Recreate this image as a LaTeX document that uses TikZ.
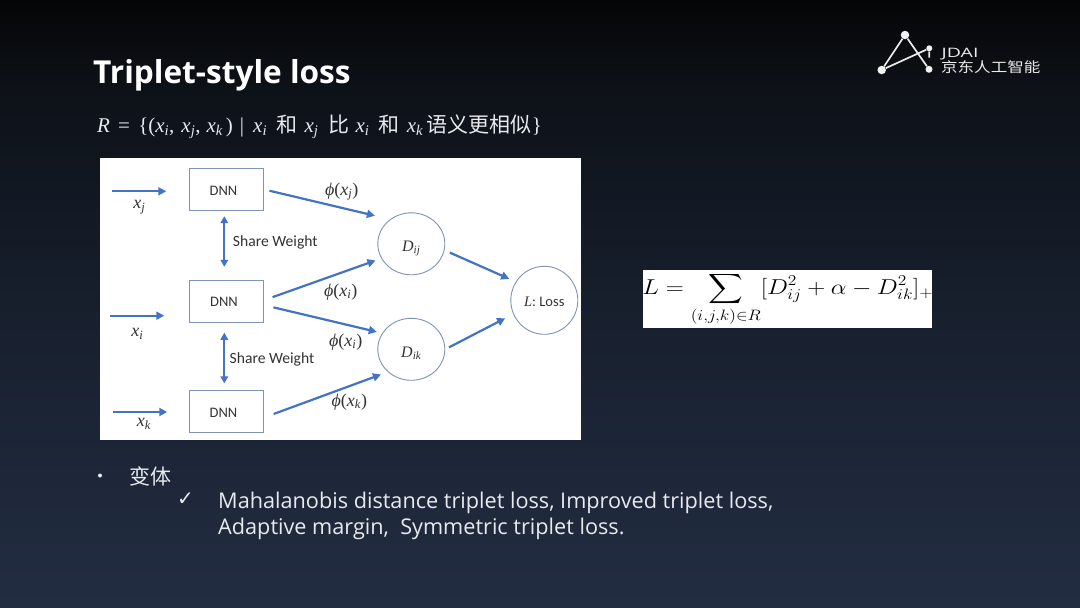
\RequirePackage{fix-cm}
\documentclass[tikz,border=0pt]{standalone}
\usepackage{amsmath}
\usepackage{fontspec}
\setmainfont{Open Sans}
\newfontfamily\cjk{Noto Sans CJK SC}
\newfontfamily\lbl{Carlito}
\newfontfamily\chk{DejaVu Sans}
\newfontfamily\ms{Liberation Serif}
\newcommand{\mi}{\ms\itshape}
\newcommand{\mx}[2]{{\mi #1}$_{\text{\mi #2}}$}
\newcommand{\phil}[2]{{\mi ϕ}{\ms (}\mx{#1}{#2}{\ms )}}
\newcommand{\lowered}[2]{\raisebox{-#1}[\height][0pt]{#2}}
\usetikzlibrary{shapes.geometric,arrows.meta}
\definecolor{arrowblue}{HTML}{4472C4}
\definecolor{boxline}{HTML}{7F93B5}
\definecolor{inktext}{HTML}{333333}
\definecolor{slidetext}{HTML}{E8EAEE}
\definecolor{bga}{RGB}{35,45,66}
\definecolor{bgb}{RGB}{23,31,45}
\definecolor{bgc}{RGB}{13,17,23}
\definecolor{bgd}{RGB}{4,5,6}
\pgfdeclareverticalshading{slidebg}{100bp}{
  color(0bp)=(bga);
  color(25bp)=(bga);
  color(50.3bp)=(bgb);
  color(68.4bp)=(bgc);
  color(75bp)=(bgd);
  color(100bp)=(bgd)}
\tikzset{
  arr/.style={draw=arrowblue,line width=2.2pt,-{Triangle[length=8pt,width=8pt]}},
  dblarr/.style={draw=arrowblue,line width=2.2pt,{Triangle[length=7pt,width=7.5pt]}-{Triangle[length=7pt,width=7.5pt]}},
  dnnbox/.style={draw=boxline,line width=0.9pt,minimum width=74pt,minimum height=42pt,inner sep=0pt,text=inktext,font=\lbl\fontsize{14.5}{16}\selectfont},
  distnode/.style={ellipse,draw=boxline,line width=0.9pt,minimum width=67pt,minimum height=62pt,inner sep=0pt,text=inktext,font=\fontsize{16}{17}\selectfont},
  lossnode/.style={ellipse,draw=boxline,line width=0.9pt,minimum width=67pt,minimum height=68pt,inner sep=0pt,text=inktext,font=\lbl\fontsize{14.5}{16}\selectfont},
  mathlbl/.style={inner sep=0pt,text=inktext,font=\fontsize{18}{20}\selectfont},
  weightlbl/.style={inner sep=0pt,text=inktext,font=\lbl\fontsize{15.6}{16}\selectfont},
  slidetxt/.style={inner sep=0pt,anchor=base west,text=slidetext},
  logoline/.style={draw=white!92!black,line width=1.7pt},
  logodot/.style={circle,fill=white!95!black,inner sep=0pt}
}
\begin{document}
\begin{tikzpicture}[x=1pt,y=-1pt]
\useasboundingbox (0,0) rectangle (1080,608);
\shade[shading=slidebg] (0,0) rectangle (1080,608);

% title and definition
\node[slidetxt,text=white,font=\bfseries\fontsize{31.6}{36}\selectfont] (title) at (93,83) {Triplet-style loss};
\node[slidetxt,font=\fontsize{21}{24}\selectfont] (relation) at (97,132)
  {{\mi R}\hspace{8.2pt}{\ms =}\hspace{8.2pt}{\ms \{(}\mx{x}{i}{\ms ,}\hspace{7pt}\mx{x}{j}{\ms ,}\hspace{6pt}\mx{x}{k}\hspace{3pt}{\ms )}\hspace{7pt}{\ms |}\hspace{9pt}\mx{x}{i}\hspace{9.5pt}{\cjk 和}\hspace{7pt}\mx{x}{j}\hspace{10pt}{\cjk 比}\hspace{6pt}\mx{x}{i}\hspace{9.5pt}{\cjk 和}\hspace{7pt}\mx{x}{k}\hspace{3.5pt}{\cjk 语义更相似}{\ms\}}};

% logo
\node[logodot,minimum size=8.5pt] (la) at (905,35) {};
\node[logodot,minimum size=8.5pt] (lb) at (881.7,70) {};
\node[logodot,minimum size=7pt] (lc) at (929,69.3) {};
\node[logodot,minimum size=6pt] (ld) at (929.3,48.3) {};
\draw[logoline] (la) -- (lb);
\draw[logoline] (la) -- (lc);
\draw[logoline] (lb) -- (ld);
\draw[logoline,shorten >=8pt] (ld) -- (lc);
\node[slidetxt,text=white!92!black,font=\fontsize{13}{14}\selectfont] (jdai) at (941.5,57.5) {\scalebox{1.5}[1]{JDAI}};
\node[slidetxt,text=white!92!black,font=\cjk\fontsize{14}{15}\selectfont] (jdcn) at (941,72.5) {\scalebox{1.18}[1]{京东人工智能}};

% white panel
\node[fill=white,inner sep=0pt,minimum width=481pt,minimum height=281.5pt] (panel) at (340.1,299.2) {};

\node[dnnbox] (dnnj) at (226,189.3) {\hspace{-5pt}\lowered{1.5pt}{DNN}};
\node[dnnbox] (dnni) at (226,301.7) {\hspace{-4pt}DNN};
\node[dnnbox] (dnnk) at (226,411.8) {\hspace{-5pt}\lowered{1.5pt}{DNN}};
\node[distnode] (dij) at (411.3,243.8) {\lowered{2.5pt}{\mx{D}{ij}}};
\node[distnode] (dik) at (411.3,349.3) {\lowered{3pt}{\mx{D}{ik}}};
\node[lossnode] (loss) at (544.3,300.3) {\lowered{1.5pt}{{\mi L}: Loss}};

\coordinate (xjin) at (112,191.3);
\coordinate (xiin) at (110,315.7);
\coordinate (xkin) at (113.3,412);
\coordinate (swx) at (224.3,0);

\draw[arr,shorten >=22.3pt] (xjin) -- (xjin -| dnnj.west);
\draw[arr,shorten >=24.3pt] (xiin) -- (xiin -| dnni.west);
\draw[arr,shorten >=21.3pt] (xkin) -- (xkin -| dnnk.west);

\draw[dblarr,shorten <=5.4pt,shorten >=13.4pt] (swx |- dnnj.south) -- (swx |- dnni.north);
\draw[dblarr,shorten <=9.6pt,shorten >=7pt] (swx |- dnni.south) -- (swx |- dnnk.north);

\draw[arr,shorten <=6.2pt,shorten >=15.5pt] (dnnj.east) -- (dij.131);
\draw[arr,shorten <=9.7pt,shorten >=6.1pt] (dnni.2) -- (dij.206.6);
\draw[arr,shorten <=10.3pt,shorten >=5.5pt] (dnni.-5) -- (dik.151.4);
\draw[arr,shorten <=10.9pt,shorten >=7.3pt] (dnnk.-9) -- (dik.224);
\draw[arr,shorten <=5.8pt,shorten >=7.1pt] (dij.-11.4) -- (loss.147);
\draw[arr,shorten <=4.2pt,shorten >=9pt] (dik.0) -- (loss.204.2);

\node[mathlbl] (lphij) at (341.7,191.7) {\phil{x}{j}};
\node[mathlbl] (lphii) at (340.7,291.7) {\phil{x}{i}};
\node[mathlbl] (lphiib) at (345.7,341.7) {\phil{x}{i}};
\node[mathlbl] (lphik) at (349.3,401.7) {\phil{x}{k}};
\node[mathlbl] (lxj) at (139.3,207.2) {\mx{x}{j}};
\node[mathlbl] (lxi) at (137.3,334) {\mx{x}{i}};
\node[mathlbl] (lxk) at (144,424) {\mx{x}{k}};
\node[weightlbl] (swa) at (275.3,242) {Share Weight};
\node[weightlbl] (swb) at (272,359.5) {Share Weight};

% formula
\node[fill=white,inner sep=0pt,minimum width=289pt,minimum height=57.7pt] (fbox) at (787.2,298.85) {};
\node[inner sep=0pt,text=black,font=\fontsize{21.5}{24}\selectfont] (formula) at (787.8,299.5)
  {\scalebox{1.16}[1]{$\displaystyle L=\sum_{(i,j,k)\in R}[D_{ij}^2+\alpha-D_{ik}^2]_+$}};

% bottom list
\node[circle,fill=slidetext,inner sep=0pt,minimum size=4pt] (bullet) at (100,475.5) {};
\node[slidetxt,font=\cjk\fontsize{21}{24}\selectfont] (variant) at (129,484) {变体};
\node[slidetxt,font=\chk\fontsize{20}{22}\selectfont] (check) at (177,505) {✓};
\node[slidetxt,font=\fontsize{21.66}{26}\selectfont] (lineone) at (218,508) {Mahalanobis distance triplet loss, Improved triplet loss,};
\node[slidetxt,font=\fontsize{21.66}{26}\selectfont] (linetwo) at (218,534) {Adaptive margin,\ \ Symmetric triplet loss.};
\end{tikzpicture}
\end{document}
